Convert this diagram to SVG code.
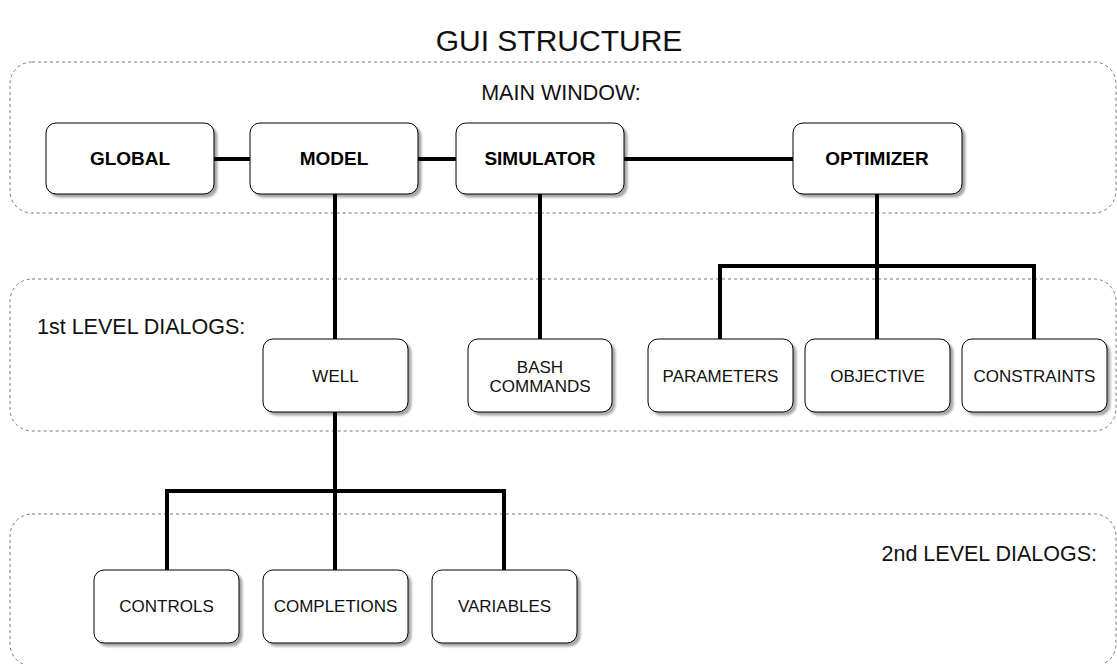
<svg xmlns="http://www.w3.org/2000/svg" width="1117" height="664" viewBox="0 0 1117 664">
<defs>
<filter id="sh" x="-10%" y="-10%" width="130%" height="130%">
<feDropShadow dx="3" dy="3" stdDeviation="1" flood-color="#000" flood-opacity="0.35"/>
</filter>
<style>
.cont{fill:none;stroke:#777;stroke-width:1;stroke-dasharray:3 3}
.box{fill:#fff;stroke:#000;stroke-width:1;filter:url(#sh)}
.bt{font-family:"Liberation Sans",Arial,sans-serif;font-weight:bold;font-size:19px;fill:#000;text-anchor:middle}
.nt{font-family:"Liberation Sans",Arial,sans-serif;font-size:17px;fill:#111;text-anchor:middle}
.lbl{font-family:"Liberation Sans",Arial,sans-serif;font-size:21.5px;fill:#111}
.title{font-family:"Liberation Sans",Arial,sans-serif;font-size:30px;fill:#111;text-anchor:middle}
.ln{fill:none;stroke:#000;stroke-width:4}
</style>
</defs>
<rect width="1117" height="664" fill="#fff"/>
<text class="title" x="559" y="51">GUI STRUCTURE</text>
<g id="containers">
<rect class="cont" x="10" y="62" width="1106" height="151" rx="22"/>
<rect class="cont" x="10" y="279" width="1106" height="152" rx="22"/>
<rect class="cont" x="10" y="514" width="1106" height="152" rx="22"/>
<text class="lbl" x="561" y="100" text-anchor="middle">MAIN WINDOW:</text>
<text class="lbl" x="37" y="334">1st LEVEL DIALOGS:</text>
<text class="lbl" x="1097" y="561" text-anchor="end">2nd LEVEL DIALOGS:</text>
</g>
<g id="connectors">
<path class="ln" d="M214 159H250M418 159H456M624 159H793"/>
<path class="ln" d="M335 194V339"/>
<path class="ln" d="M540 194V339"/>
<path class="ln" d="M877 194V339M720 339V266H1034V339"/>
<path class="ln" d="M335 412V570M167 570V491H504V570"/>
</g>
<g id="global"><rect class="box" x="46" y="123" width="168" height="71" rx="10"/><text class="bt" x="130" y="165">GLOBAL</text></g>
<g id="model"><rect class="box" x="250" y="123" width="168" height="71" rx="10"/><text class="bt" x="334" y="165">MODEL</text></g>
<g id="simulator"><rect class="box" x="456" y="123" width="168" height="71" rx="10"/><text class="bt" x="540" y="165">SIMULATOR</text></g>
<g id="optimizer"><rect class="box" x="793" y="123" width="169" height="71" rx="10"/><text class="bt" x="877" y="165">OPTIMIZER</text></g>
<g id="well"><rect class="box" x="263" y="339" width="145" height="73" rx="10"/><text class="nt" x="335.5" y="382">WELL</text></g>
<g id="bash"><rect class="box" x="468" y="339" width="144" height="73" rx="10"/><text class="nt" x="540" y="373">BASH</text><text class="nt" x="540" y="392">COMMANDS</text></g>
<g id="parameters"><rect class="box" x="648" y="339" width="145" height="73" rx="10"/><text class="nt" x="720.5" y="382">PARAMETERS</text></g>
<g id="objective"><rect class="box" x="805" y="339" width="145" height="73" rx="10"/><text class="nt" x="877.5" y="382">OBJECTIVE</text></g>
<g id="constraints"><rect class="box" x="962" y="339" width="145" height="73" rx="10"/><text class="nt" x="1034.5" y="382">CONSTRAINTS</text></g>
<g id="controls"><rect class="box" x="94" y="570" width="145" height="73" rx="10"/><text class="nt" x="166.5" y="612">CONTROLS</text></g>
<g id="completions"><rect class="box" x="263" y="570" width="145" height="73" rx="10"/><text class="nt" x="335.5" y="612">COMPLETIONS</text></g>
<g id="variables"><rect class="box" x="432" y="570" width="145" height="73" rx="10"/><text class="nt" x="504.5" y="612">VARIABLES</text></g>
</svg>
